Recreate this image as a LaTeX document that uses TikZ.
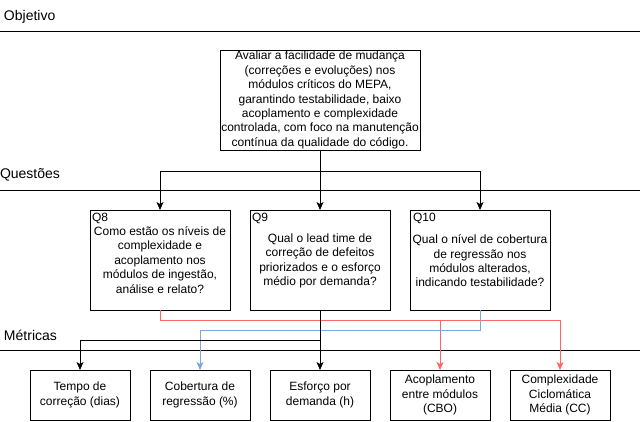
\documentclass[tikz,border=0pt]{standalone}
\usepackage{fontspec}
\setmainfont{Liberation Sans}
\usetikzlibrary{arrows.meta,calc}
\definecolor{linkred}{HTML}{FF6666}
\definecolor{linkblue}{HTML}{7EA6E0}
\begin{document}
\begin{tikzpicture}[x=1pt,y=-1pt,
  every node/.style={font=\fontsize{12}{14.4}\selectfont, inner sep=0pt, outer sep=0pt},
  boxnode/.style={draw, line width=1pt, anchor=north west, align=center},
  lbl/.style={anchor=west, font=\fontsize{14}{16.8}\selectfont},
  qlbl/.style={anchor=north west},
  sep/.style={line width=1pt},
  arr/.style={line width=1pt, -{Stealth[length=8pt,width=7pt,inset=2pt]}},
  redarr/.style={arr, draw=linkred},
  bluearr/.style={arr, draw=linkblue}]
\useasboundingbox (0,0) rectangle (642,421);

% section headers
\node[lbl] (hobj) at (4,17) {Objetivo};
\draw[sep] (0,31) coordinate (l1a) -- (640,31) coordinate (l1b);
\node[lbl] (hq) at (0,175) {Questões};
\draw[sep] (0,190) coordinate (l2a) -- (640,190) coordinate (l2b);
\node[lbl] (hm) at (4,335) {Métricas};
\draw[sep] (0,350) coordinate (l3a) -- (640,350) coordinate (l3b);

% objective
\node[boxnode, minimum width=200pt, minimum height=100pt] (obj) at (220,50)
  {Avaliar a facilidade de mudança\\(correções e evoluções) nos\\módulos críticos do MEPA,\\garantindo testabilidade, baixo\\acoplamento e complexidade\\controlada, com foco na manutenção\\contínua da qualidade do código.};

% questions
\node[boxnode, minimum width=140pt, minimum height=100pt] (q8) at (90,210) {};
\node[qlbl] (q8l) at (92,213) {Q8};
\node[align=center] (q8t) at (160,260) {Como estão os níveis de\\complexidade e\\acoplamento nos\\módulos de ingestão,\\análise e relato?};

\node[boxnode, minimum width=140pt, minimum height=100pt] (q9) at (250,210) {};
\node[qlbl] (q9l) at (252,213) {Q9};
\node[align=center] (q9t) at (320,261) {Qual o lead time de\\correção de defeitos\\priorizados e o esforço\\médio por demanda?};

\node[boxnode, minimum width=140pt, minimum height=100pt] (q10) at (410,210) {};
\node[qlbl] (q10l) at (413,213) {Q10};
\node[align=center] (q10t) at (480,261) {Qual o nível de cobertura\\de regressão nos\\módulos alterados,\\indicando testabilidade?};

% metrics
\node[boxnode, minimum width=100pt, minimum height=50pt] (m1) at (30,370) {};
\node[align=center] (m1t) at (80,395) {Tempo de\\correção (dias)};
\node[boxnode, minimum width=100pt, minimum height=50pt] (m2) at (150,370) {};
\node[align=center] (m2t) at (200,395) {Cobertura de\\regressão (\%)};
\node[boxnode, minimum width=100pt, minimum height=50pt] (m3) at (270,370) {};
\node[align=center] (m3t) at (320,395) {Esforço por\\demanda (h)};
\node[boxnode, minimum width=100pt, minimum height=50pt] (m4) at (390,370) {};
\node[align=center] (m4t) at (440,395) {Acoplamento\\entre módulos\\(CBO)};
\node[boxnode, minimum width=100pt, minimum height=50pt] (m5) at (510,370) {};
\node[align=center] (m5t) at (560,395) {Complexidade\\Ciclomática\\Média (CC)};

% objective -> questions
\coordinate (jq) at (320,171);
\draw[arr] (obj.south) -- (q9.north);
\draw[arr] (jq) -| (q8.north);
\draw[arr] (jq) -| (q10.north);

% Q8 -> CBO, CC (red)
\coordinate (r1) at (160,320);
\coordinate (r2) at (440,320);
\draw[redarr] (q8.south) -- (r1) -| (m5.north);
\draw[redarr] (r2) -- (m4.north);

% Q10 -> regression coverage (blue)
\coordinate (b1) at (480,330);
\draw[bluearr] (q10.south) -- (b1) -| (m2.north);

% Q9 -> time, effort (black)
\coordinate (k1) at (320,340);
\draw[arr] (q9.south) -- (m3.north);
\draw[arr] (k1) -| (m1.north);
\end{tikzpicture}
\end{document}
